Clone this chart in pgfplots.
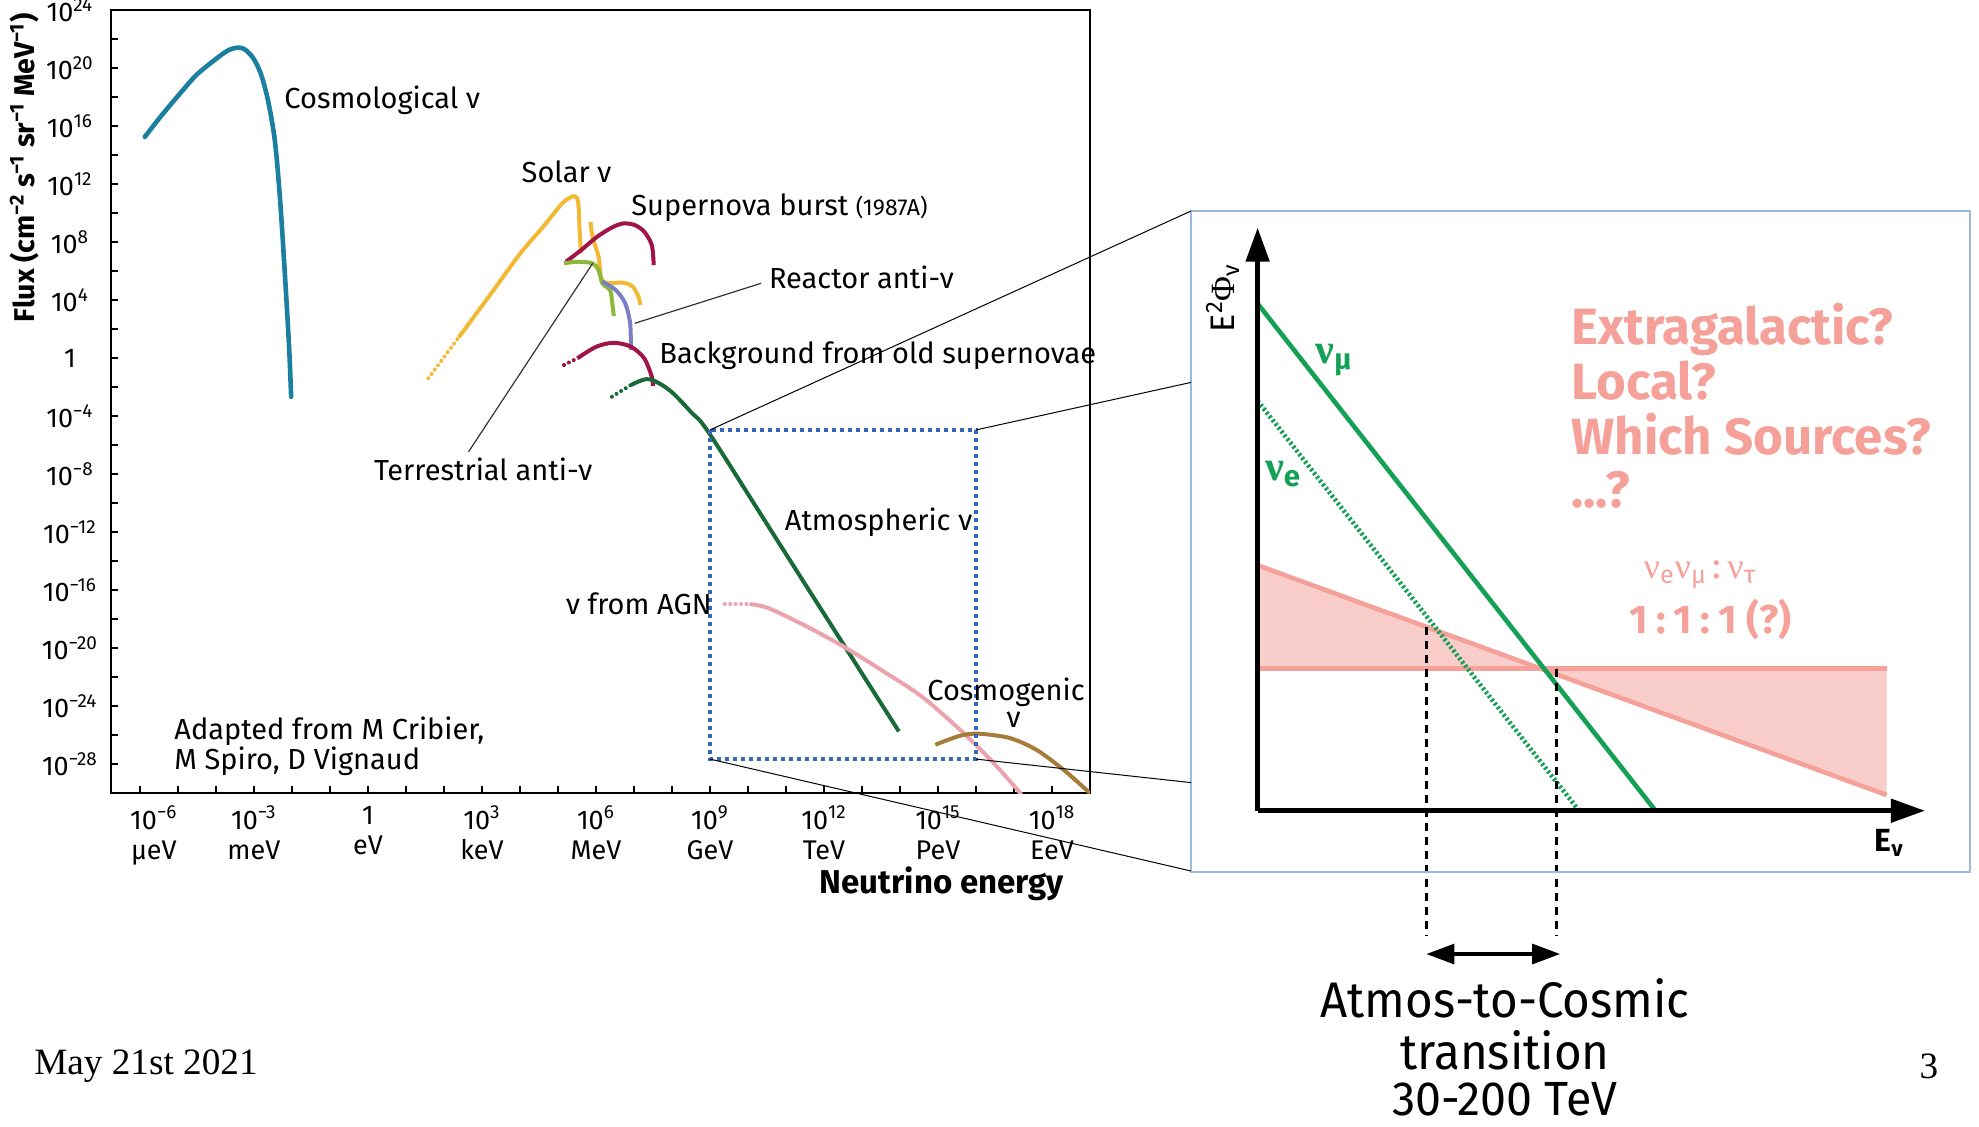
\documentclass[border=0pt]{standalone}
\usepackage{pgfplots}
\pgfplotsset{compat=1.18}
\usepackage{fontspec}
\setmainfont{Fira Sans}
\newfontfamily\serif{Liberation Serif}
\usetikzlibrary{arrows.meta}
\definecolor{cosmo}{RGB}{27,127,160}
\definecolor{solar}{RGB}{242,185,53}
\definecolor{snred}{RGB}{160,20,72}
\definecolor{terr}{RGB}{140,184,58}
\definecolor{reactor}{RGB}{122,127,195}
\definecolor{atmo}{RGB}{26,105,56}
\definecolor{agn}{RGB}{235,163,174}
\definecolor{cosmog}{RGB}{166,124,59}
\definecolor{boxblue}{RGB}{53,103,181}
\definecolor{nugreen}{RGB}{20,160,85}
\definecolor{salmon}{RGB}{245,160,152}
\definecolor{pinkfill}{RGB}{249,205,202}
\definecolor{frame}{RGB}{157,184,221}
\newcommand{\cf}{\fontsize{14.5}{16}\selectfont}
\newcommand{\tf}{\fontsize{13.5}{15.2}\selectfont}
\tikzset{dots/.style={line width=2pt, line cap=round, dash pattern=on 0.01pt off 2.7pt}}
\begin{document}
\begin{tikzpicture}
\useasboundingbox (0pt,0pt) rectangle (989.5pt,-563pt);
% ---------------- left chart ----------------
\begin{axis}[
  at={(55.5pt,-396.5pt)}, anchor=south west,
  scale only axis, width=489.5pt, height=391.5pt,
  xmin=-6.76, xmax=19, ymin=-30, ymax=24,
  axis line style={line width=1.1pt},
  tick pos=left, tick align=inside,
  major tick length=3.5pt,
  tick style={line width=1pt, black},
  xtick={-6,...,19},
  xticklabels={{\hspace*{14pt}10\textsuperscript{−6}\\\hspace*{14pt}μeV},{},{},{10\textsuperscript{−3}\\meV},{},{},{1\\eV},{},{},{10\textsuperscript{3}\\keV},{},{},{10\textsuperscript{6}\\MeV},{},{},{10\textsuperscript{9}\\GeV},{},{},{10\textsuperscript{12}\\TeV},{},{},{10\textsuperscript{15}\\PeV},{},{},{10\textsuperscript{18}\\EeV},{}},
  ytick={-28,-26,...,24},
  yticklabels={{10\textsuperscript{−28}},{},{10\textsuperscript{−24}},{},{10\textsuperscript{−20}},{},{10\textsuperscript{−16}},{},{10\textsuperscript{−12}},{},{10\textsuperscript{−8}},{},{10\textsuperscript{−4}},{},{1},{},{10\textsuperscript{4}},{},{10\textsuperscript{8}},{},{10\textsuperscript{12}},{},{10\textsuperscript{16}},{},{10\textsuperscript{20}},{},{10\textsuperscript{24}}},
  ticklabel style={font=\tf},
  xticklabel style={align=center, yshift=-3pt},
  yticklabel style={anchor=east, text width=28pt, align=center, xshift=-3pt},
]
% Cosmological
\addplot[cosmo, line width=2.3pt, smooth, line cap=round] coordinates {
(-5.87,15.25)(-5.46,16.63)(-4.98,18.13)(-4.52,19.50)(-4.04,20.54)(-3.67,21.23)(-3.39,21.41)(-3.21,21.23)(-3.01,20.65)(-2.82,19.62)(-2.63,17.78)(-2.45,15.02)(-2.31,10.89)(-2.17,5.15)(-2.07,0.55)(-2.02,-2.67)};
% Solar
\addplot[solar, dots] coordinates {(1.59,-1.40)(2.39,1.43)};
\addplot[solar, line width=2pt, smooth] coordinates {
(2.39,1.43)(3.2,4.3)(4.0,7.18)(4.61,9.05)(5.11,10.66)(5.36,11.12)(5.45,11.15)(5.51,11.0)(5.55,10.3)(5.56,9.5)(5.58,8.3)(5.61,7.21)};
\addplot[solar, line width=2pt, smooth] coordinates {
(5.86,9.39)(5.91,8.36)(6.07,6.98)(6.13,5.60)(6.26,5.19)(6.72,5.19)(6.97,4.91)(7.12,4.22)(7.17,3.65)};
% Supernova burst
\addplot[snred, line width=2pt, smooth] coordinates {
(5.21,6.64)(5.61,7.44)(6.01,8.32)(6.42,9.0)(6.72,9.28)(7.02,9.17)(7.27,8.71)(7.47,7.79)(7.52,6.41)};
% Terrestrial
\addplot[terr, line width=2pt, smooth] coordinates {
(5.16,6.53)(5.51,6.64)(5.91,6.53)(6.07,6.06)(6.17,5.15)(6.37,4.69)(6.42,4.0)(6.47,2.89)};
% Reactor
\addplot[reactor, line width=2pt, smooth] coordinates {
(6.17,5.26)(6.52,4.69)(6.77,3.77)(6.90,2.39)(6.92,0.55)};
% Background old SN
\addplot[snred, dots] coordinates {(5.16,-0.48)(5.51,-0.02)};
\addplot[snred, line width=2pt, smooth] coordinates {
(5.51,-0.02)(6.01,0.78)(6.47,1.05)(6.92,0.78)(7.27,-0.02)(7.47,-1.29)(7.50,-1.93)};
% Atmospheric
\addplot[atmo, dots] coordinates {(6.42,-2.67)(6.92,-1.86)};
\addplot[atmo, line width=2pt, smooth] coordinates {
(6.92,-1.86)(7.22,-1.52)(7.42,-1.47)(7.7,-1.8)(8.03,-2.43)(8.53,-3.81)(8.98,-5.19)(10.85,-12.9)(13.97,-25.75)};
% AGN
\addplot[agn, dots] coordinates {(9.39,-16.97)(10.04,-16.97)};
\addplot[agn, line width=2pt, smooth] coordinates {
(10.04,-16.97)(10.54,-17.25)(11.55,-18.52)(12.58,-20.0)(13.57,-21.62)(14.57,-23.34)(15.58,-25.64)(16.38,-27.7)(17.09,-29.77)(17.15,-30)};
% Cosmogenic
\addplot[cosmog, line width=2pt, smooth] coordinates {
(14.93,-26.67)(15.58,-26.05)(16.08,-25.91)(16.89,-26.21)(17.59,-27.02)(18.30,-28.39)(18.9,-29.77)(19,-30)};
% zoom rectangle
\draw[boxblue, line width=2.2pt, line cap=butt, dash pattern=on 2.2pt off 1.8pt] (axis cs:9,-4.96) rectangle (axis cs:16,-27.66);
\coordinate (rTL) at (axis cs:9,-4.96);
\coordinate (rTR) at (axis cs:16,-4.96);
\coordinate (rBR) at (axis cs:16,-27.66);
\coordinate (rBL) at (axis cs:9,-27.66);
\end{axis}

% ---------------- right schematic ----------------
\begin{axis}[
  at={(628.8pt,-405.35pt)}, anchor=south west,
  scale only axis, width=333.65pt, height=291.5pt,
  xmin=0, xmax=667.3, ymin=0, ymax=583,
  axis lines=left,
  axis line style={line width=2.5pt, -{Triangle[length=17pt,width=11.5pt]}},
  xtick=\empty, ytick=\empty,
  clip=false, axis on top,
]
\addplot[draw=none, fill=pinkfill] coordinates {(0,245.5)(0,142)(283.3,142)(0,245.5)};
\addplot[draw=none, fill=pinkfill] coordinates {(283.3,142)(629,142)(629,15.7)(283.3,142)};
\addplot[salmon, line width=2.3pt] coordinates {(0,245.5)(629,15.7)};
\addplot[salmon, line width=2.3pt] coordinates {(0,142)(629,142)};
\addplot[nugreen, line width=2.3pt, dash pattern=on 1.2pt off 1.2pt] coordinates {(0,409.8)(321.4,0)};
\addplot[nugreen, line width=2.3pt] coordinates {(0,507.1)(397.9,0)};
\addplot[black, line width=1.4pt, dash pattern=on 4pt off 3pt] coordinates {(168.8,183.8)(168.8,-125.3)};
\addplot[black, line width=1.4pt, dash pattern=on 4pt off 3pt] coordinates {(298.9,142)(298.9,-125.3)};
\addplot[black, line width=1.6pt, {Triangle[length=14pt,width=10pt]}-{Triangle[length=14pt,width=10pt]}] coordinates {(168.8,-143.3)(302.5,-143.3)};
\end{axis}

\begin{scope}[x=0.5pt,y=-0.5pt]
% frame of the zoomed panel and connectors
\draw[frame, line width=0.8pt] (1191,211) rectangle (1970,872);
\draw[line width=0.5pt] (rTL) -- (1191,211);
\draw[line width=0.5pt] (rTR) -- (1191,382.4);
\draw[line width=0.5pt] (rBR) -- (1191,782.6);
\draw[line width=0.5pt] (rBL) -- (1191,871);
% leader lines
\draw[line width=0.6pt, black!80] (761,283.3) -- (634.8,323.3);
\draw[line width=0.6pt, black!80] (468.6,451.7) -- (592.7,263.3);
% left chart labels
\begin{scope}[every node/.style={inner sep=0pt}]
\node[anchor=west, font=\cf] at (284,100) {Cosmological ν};
\node[font=\cf] at (566.6,171.6) {Solar ν};
\node[anchor=west, font=\cf] at (631,208) {Supernova burst {\fontsize{11.5}{13}\selectfont(1987A)}};
\node[anchor=west, font=\cf] at (768.6,277.6) {Reactor anti-ν};
\node[anchor=west, font=\cf] at (659,355.5) {Background from old supernovae};
\node[anchor=west, font=\cf] at (373.6,469.5) {Terrestrial anti-ν};
\node[anchor=west, font=\cf] at (784.5,522) {Atmospheric ν};
\node[anchor=west, font=\cf] at (565.6,604) {ν from AGN};
\node[font=\cf] at (1006,692) {Cosmogenic};
\node[font=\cf] at (1013.7,720) {ν};
\node[anchor=west, font=\cf] at (174,731.7) {Adapted from M Cribier,};
\node[anchor=west, font=\cf] at (174,761) {M Spiro, D Vignaud};
\node[font=\bfseries\fontsize{16.5}{18}\selectfont] at (941.8,883.3) {Neutrino energy};
\node[rotate=90, font=\bfseries\fontsize{14.3}{16}\selectfont] at (24,168) {Flux (cm\textsuperscript{−2} s\textsuperscript{−1} sr\textsuperscript{−1} MeV\textsuperscript{−1})};
% right panel labels
\node[anchor=west, salmon, font=\bfseries\fontsize{25.5}{28}\selectfont] at (1571,329.5) {Extragalactic?};
\node[anchor=west, salmon, font=\bfseries\fontsize{25.5}{28}\selectfont] at (1571,380.8) {Local?};
\node[anchor=west, salmon, font=\bfseries\fontsize{25.5}{28}\selectfont] at (1571,434.4) {Which Sources?};
\node[anchor=west, salmon, font=\bfseries\fontsize{25.5}{28}\selectfont] at (1571,490.2) {...?};
\node[salmon, font=\fontsize{18}{20}\selectfont] at (1700,575) {{\serif ν}\textsubscript{e}{\serif ν}\textsubscript{μ}\,:\,{\serif ν}\textsubscript{τ}};
\node[salmon, font=\bfseries\fontsize{20}{24}\selectfont] at (1710.6,619.6) {1\hspace{0.2em}:\hspace{0.2em}1\hspace{0.2em}:\hspace{0.2em}1 (?)};
\node[nugreen, font=\bfseries\fontsize{21}{24}\selectfont] at (1334,360) {{\serif\bfseries ν}\textsubscript{μ}};
\node[nugreen, font=\bfseries\fontsize{21}{24}\selectfont] at (1283,474) {{\serif\bfseries ν}\textsubscript{e}};
\node[rotate=90, font=\fontsize{17}{19}\selectfont] at (1223,298) {E\textsuperscript{2}{\serif Φ}\textsubscript{ν}};
\node[font=\bfseries\fontsize{16}{18}\selectfont] at (1889,843) {E\textsubscript{ν}};
\node[font=\fontsize{25}{28}\selectfont] at (1505,998) {\scalebox{0.95}[1]{Atmos-to-Cosmic}};
\node[font=\fontsize{25}{28}\selectfont] at (1505,1050) {\scalebox{0.95}[1]{transition}};
\node[font=\fontsize{24}{28}\selectfont] at (1505,1099) {\scalebox{0.97}[1]{30-200 TeV}};
\node[anchor=west, font=\serif\fontsize{18.6}{22}\selectfont] at (34,1066) {May 21st 2021};
\node[font=\serif\fontsize{18.6}{22}\selectfont] at (1929,1066) {3};
\end{scope}
\end{scope}
\end{tikzpicture}
\end{document}
